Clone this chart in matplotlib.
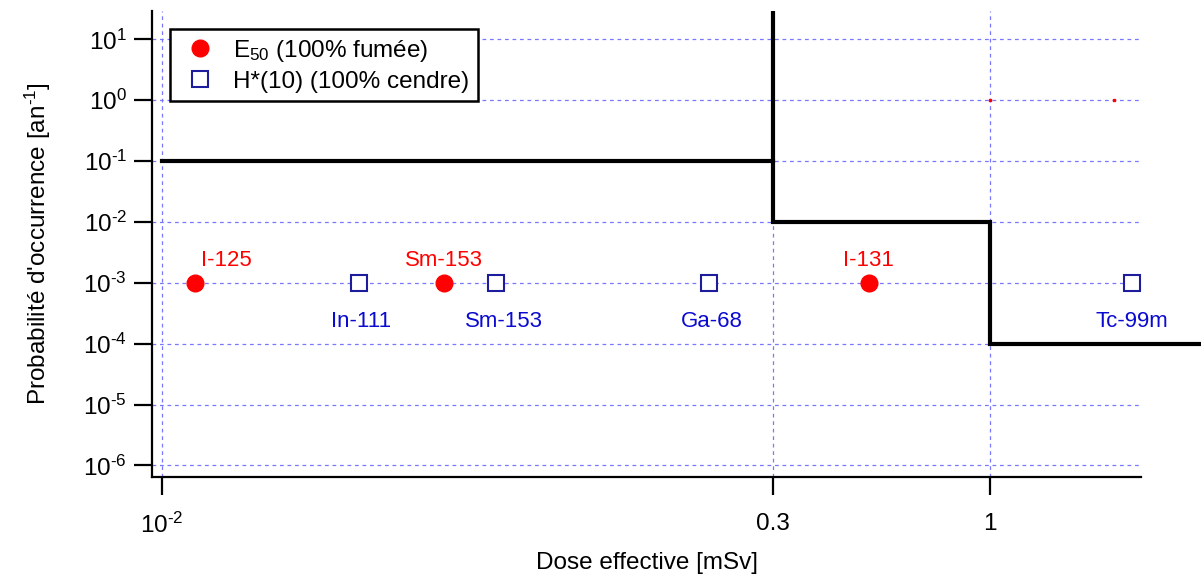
import numpy as np
import matplotlib
matplotlib.use("Agg")
import matplotlib.pyplot as plt
from matplotlib.ticker import FixedLocator, NullLocator, FixedFormatter

plt.rcParams["font.family"] = ["Liberation Sans", "DejaVu Sans"]
plt.rcParams["mathtext.fontset"] = "custom"
plt.rcParams["mathtext.rm"] = "Liberation Sans"
plt.rcParams["mathtext.it"] = "Liberation Sans"
plt.rcParams["axes.unicode_minus"] = False

# E50, 100% fumee (red circles)
fumee_nuclides = ["I-125", "Sm-153", "I-131"]
fumee_dose = [0.012, 0.048, 0.51]
fumee_prob = [1e-3, 1e-3, 1e-3]

# H*(10), 100% cendre (blue squares)
cendre_nuclides = ["In-111", "Sm-153", "Ga-68", "Tc-99m"]
cendre_dose = [0.030, 0.064, 0.21, 2.2]
cendre_prob = [1e-3, 1e-3, 1e-3, 1e-3]

# stray tiny points at p = 1
extra_dose = [1.0, 2.0]
extra_prob = [1.0, 1.0]

# acceptability limit (step)
limit_dose = [0.01, 0.3, 0.3, 1.0, 1.0, 3.3]
limit_prob = [0.1, 0.1, 0.01, 0.01, 1e-4, 1e-4]

xticks = [0.01, 0.3, 1.0]
xtick_labels = ["$10^{\u2010 2}$", "0.3", "1"]
yticks = [1e-6, 1e-5, 1e-4, 1e-3, 1e-2, 1e-1, 1e0, 1e1]
ytick_labels = ["$10^{%s}$" % str(e).replace("-", "\u2010 ") for e in range(-6, 2)]

# label offsets in points
fumee_dx = [23, 0, 0]
cendre_dx = [1, 6, 2, 0]

fig = plt.figure(figsize=(12.01, 5.77), dpi=100)
ax = fig.add_axes([0.1266, 0.1733, 0.8235, 0.8077])
ax.set_xscale("log")
ax.set_yscale("log")
ax.set_xlim(0.00946, 2.32)
ax.set_ylim(10 ** -6.19, 10 ** 1.466)

grid_kw = dict(color="#7878ff", lw=0.9, ls=(0, (3, 3)), zorder=0)
for xt in xticks:
    ax.axvline(xt, **grid_kw)
for yt in yticks:
    ax.axhline(yt, **grid_kw)

ax.plot(limit_dose, limit_prob, color="black", lw=3, clip_on=False,
        solid_joinstyle="miter", zorder=3)
ax.plot([0.3, 0.3], [0.1, 100], color="black", lw=3, zorder=3)

ax.plot(fumee_dose, fumee_prob, "o", color="#ff0000", ms=12, ls="none",
        label="E$_{50}$ (100% fumée)", zorder=4)
ax.plot(cendre_dose, cendre_prob, "s", mfc="white", mec="#1c1c9c", mew=1.5,
        ms=11, ls="none", label="H*(10) (100% cendre)", zorder=4)
ax.plot(extra_dose, extra_prob, "s", color="#ff0000", ms=2, ls="none", zorder=4)

for name, x, y, dx in zip(fumee_nuclides, fumee_dose, fumee_prob, fumee_dx):
    ax.annotate(name, (x, y), xytext=(dx, 16), textcoords="offset points",
                ha="center", va="center", color="#ff0000", fontsize=16)
for name, x, y, dx in zip(cendre_nuclides, cendre_dose, cendre_prob, cendre_dx):
    ax.annotate(name, (x, y), xytext=(dx, -28), textcoords="offset points",
                ha="center", va="center", color="#0a0ad0", fontsize=16)

ax.xaxis.set_major_locator(FixedLocator(xticks))
ax.xaxis.set_major_formatter(FixedFormatter(xtick_labels))
ax.xaxis.set_minor_locator(NullLocator())
ax.yaxis.set_major_locator(FixedLocator(yticks))
ax.yaxis.set_major_formatter(FixedFormatter(ytick_labels))
ax.yaxis.set_minor_locator(NullLocator())
ax.tick_params(axis="both", which="major", direction="out", length=13,
               width=1.6, labelsize=17.5)
ax.tick_params(axis="x", pad=13)
ax.tick_params(axis="y", pad=5)

for side in ["top", "right"]:
    ax.spines[side].set_visible(False)
for side in ["left", "bottom"]:
    ax.spines[side].set_linewidth(1.6)

ax.set_xlabel("Dose effective [mSv]", fontsize=17.5, labelpad=10)
ax.set_ylabel("Probabilité d'occurrence [an$^{\u2010 1}$]", fontsize=17.5,
              labelpad=22)

leg = ax.legend(loc="upper left", bbox_to_anchor=(0.018, 0.961), fontsize=17.5,
                frameon=True, fancybox=False, edgecolor="black", framealpha=1,
                borderaxespad=0, borderpad=0.35, handletextpad=0.5,
                labelspacing=0.3, handlelength=1.75)
leg.get_frame().set_linewidth(1.8)

fig.savefig("out.png", dpi=100)
